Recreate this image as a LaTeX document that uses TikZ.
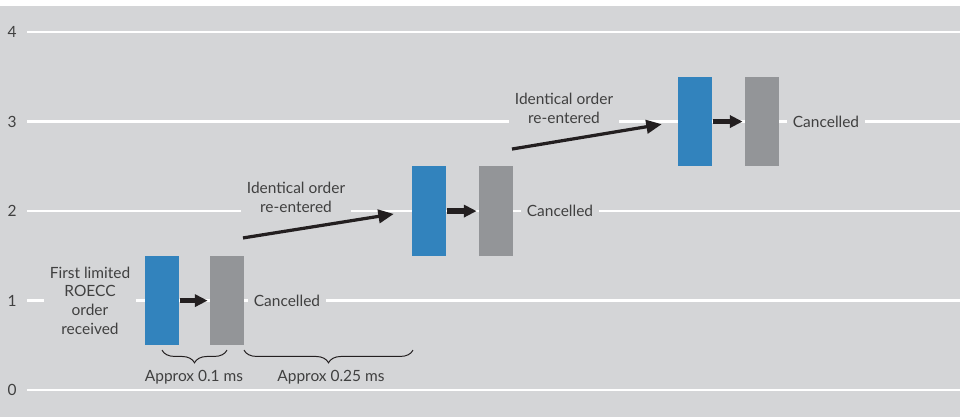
\documentclass[tikz,border=0pt]{standalone}
\usepackage{fontspec}
\setmainfont{Lato}
\usepackage{tikz}
\usetikzlibrary{arrows.meta,decorations.pathreplacing}
\definecolor{panel}{RGB}{212,213,215}
\definecolor{orderblue}{RGB}{50,131,189}
\definecolor{cxlgray}{RGB}{147,149,152}
\definecolor{labeltext}{RGB}{64,64,64}
\definecolor{arrowdark}{RGB}{35,31,32}
\tikzset{x=0.025cm, y=2.2375cm, every node/.style={font=\fontsize{11}{13.3}\selectfont, text=labeltext}}
\tikzstyle{ordbar}=[rectangle,fill=orderblue,inner sep=0pt,minimum width=0.85cm,minimum height=2.2375cm]
\tikzstyle{cxlbar}=[rectangle,fill=cxlgray,inner sep=0pt,minimum width=0.85cm,minimum height=2.2375cm]
\tikzstyle{gridline}=[white,line width=1.8pt]
\tikzstyle{boxlabel}=[fill=panel,inner xsep=4pt,inner ysep=1pt,align=center]
\tikzstyle{hop}=[arrowdark,line width=3.9pt,shorten <=0.5pt,shorten >=1.5pt,-{Triangle[length=9pt,width=8.5pt]}]
\tikzstyle{jump}=[arrowdark,line width=2.3pt,-{Triangle[length=11pt,width=9.5pt]}]
\tikzstyle{spanbrace}=[arrowdark,line width=0.7pt,decorate,decoration={brace,mirror,amplitude=9pt}]

\begin{document}
\begin{tikzpicture}
		\useasboundingbox (0,-0.3017) rectangle (960,4.358);
		\fill[white] (0,-0.3017) rectangle (960,4.358);
		\fill[panel] (0,-0.3017) rectangle (960,4.29);
		% grid
		\foreach \k in {0,...,4} {
			\draw[gridline] (27,\k) -- (960,\k);
			\node at (12,\k) [text=labeltext] (y\k) {\k};
		}
		% orders and cancellations
		\node at (162,1) [ordbar] (o1) {};
		\node at (227,1) [cxlbar] (c1) {};
		\node at (429,2) [ordbar] (o2) {};
		\node at (496,2) [cxlbar] (c2) {};
		\node at (695,3) [ordbar] (o3) {};
		\node at (762,3) [cxlbar] (c3) {};
		\node at (90,1) [boxlabel] (first) {First limited\\ROECC\\order\\received};
		\node at (287,1) [boxlabel] (x1) {Cancelled};
		\node at (560,2) [boxlabel] (x2) {Cancelled};
		\node at (826,3) [boxlabel] (x3) {Cancelled};
		\node at (296,2.156) [boxlabel] (re1) {Identical order\\re-entered};
		\node at (564,3.151) [boxlabel] (re2) {Identical order\\re-entered};
		\draw[hop] (o1) -- (c1);
		\draw[hop] (o2) -- (c2);
		\draw[hop] (o3) -- (c3);
		\coordinate (s1) at (243,1.70);
		\coordinate (s2) at (512,2.693);
		\draw[jump,shorten >=12.9pt] (s1) -- (o2.west);
		\draw[jump,shorten >=11.5pt] (s2) -- (o3.west);
		% timings
		\draw[spanbrace] (162,0.447) -- (227,0.447);
		\draw[spanbrace] (244,0.447) -- (413,0.447);
		\node at (194,0.145) (t1) {Approx 0.1 ms};
		\node at (331,0.145) (t2) {Approx 0.25 ms};
\end{tikzpicture}
\end{document}
